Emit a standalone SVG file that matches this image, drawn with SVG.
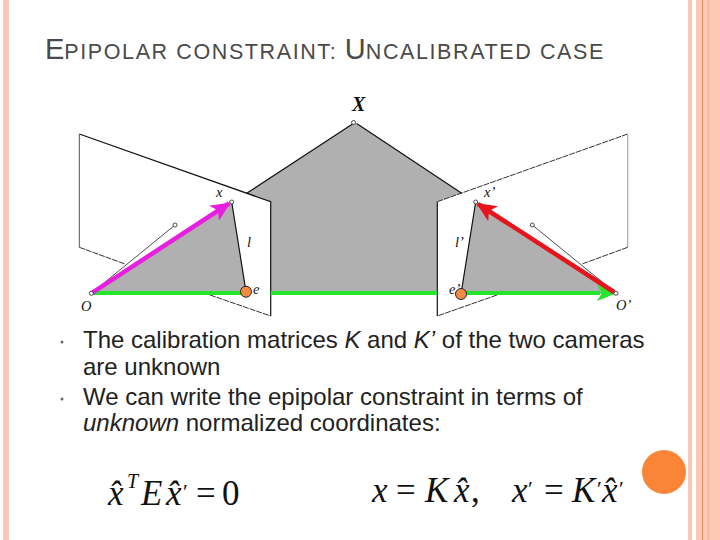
<svg xmlns="http://www.w3.org/2000/svg" width="720" height="540" viewBox="0 0 720 540">
<style>
.title{font-family:"Liberation Sans",Arial,sans-serif;fill:#4a4a4a;font-size:21.5px;letter-spacing:1.6px}
.cap{font-size:29px;letter-spacing:0}
.body{font-family:"Liberation Sans",Arial,sans-serif;fill:#222;font-size:24px}
.bul{fill:#666}
.lab{font-family:"Liberation Serif","Times New Roman",serif;font-style:italic;fill:#111;font-size:14.5px}
.math{font-family:"Liberation Serif","Times New Roman",serif;fill:#111;font-size:35px}
.i{font-style:italic}
.sup{font-size:20px}
.pr{font-size:22px}
.edge{fill:none;stroke:#111;stroke-width:1.2}
.dash{fill:none;stroke:#333;stroke-width:1;stroke-dasharray:6 1}
.thin{fill:none;stroke:#222;stroke-width:.8}
.pt{fill:#fff;stroke:#222;stroke-width:.8}
.gray{fill:#b0b0b0}
.ep{fill:#f58a42;stroke:#222;stroke-width:1}
</style>
<defs>
<marker id="mg" markerUnits="userSpaceOnUse" markerWidth="20" markerHeight="16" refX="18" refY="8" orient="auto"><path d="M0 0L20 8L0 16L5 8Z" fill="#22e52c"/></marker>
<marker id="mm" markerUnits="userSpaceOnUse" markerWidth="20" markerHeight="18" refX="18" refY="9" orient="auto"><path d="M0 0L20 9L0 18L5 9Z" fill="#e81fe0"/></marker>
<marker id="mr" markerUnits="userSpaceOnUse" markerWidth="20" markerHeight="18" refX="18" refY="9" orient="auto"><path d="M0 0L20 9L0 18L5 9Z" fill="#e8141c"/></marker>
</defs>
<g id="frame">
<rect x="3" y="0" width="6" height="540" fill="#f9c8b4"/>
<rect x="688" y="0" width="4" height="540" fill="#f9c8b4"/>
<rect x="696" y="0" width="24" height="540" fill="#fdc8b4"/>
<rect x="702" y="0" width="1" height="540" fill="#e8945f"/>
<rect x="707" y="0" width="3" height="540" fill="#f7bda8"/>
</g>
<text class="title" x="45" y="59"><tspan class="cap">E</tspan>PIPOLAR CONSTRAINT: <tspan class="cap">U</tspan>NCALIBRATED CASE</text>
<g id="scene">
<path class="gray" d="M246.7 193.3L353.3 123.5L356.7 123.5L461.7 193.3L437.3 201.7V292H270.7V201.7Z"/>
<path class="edge" d="M246.7 193.3L353.3 123.5M356.7 123.5L461.7 193.3"/>
<path class="edge" d="M79.3 134L270.7 201.7V316"/>
<path d="M79.3 134V247.3" fill="none" stroke="#555" stroke-width="1"/>
<path class="dash" d="M79.3 247.3L125 264M210 295L270.7 316"/>
<path class="edge" d="M437.3 316V201.7"/>
<path class="dash" d="M437.3 201.7L627.7 134"/>
<path d="M627.7 134V247.3" fill="none" stroke="#aaa" stroke-width="1.2"/>
<path class="dash" d="M627.7 247.3L582 264M497 295L437.3 316"/>
<path class="gray" d="M91.3 293.3L231.7 202L246 291.7Z"/>
<path class="gray" d="M616 293.3L475.7 202L461 294Z"/>
<path class="edge" d="M231.7 202L246 291.7M475.7 202L461 294"/>
<path class="thin" d="M91.3 293.3L175 225M616 293.3L532.3 225"/>
<circle class="pt" cx="175" cy="225" r="2"/><circle class="pt" cx="532.3" cy="225" r="2"/>
<circle class="pt" cx="353.5" cy="122.5" r="2"/>
</g>
<g id="connectors">
<path d="M92 293H246M270.7 293H437.3M465 293H600" fill="none" stroke="#22e52c" stroke-width="4"/>
<path d="M590 293H615" fill="none" stroke="#22e52c" stroke-width="1" marker-end="url(#mg)"/>
<path d="M91.3 293.3L229 203.5" fill="none" stroke="#e81fe0" stroke-width="4.5" marker-end="url(#mm)"/>
<path d="M614 292L478 204" fill="none" stroke="#e8141c" stroke-width="4.5" marker-end="url(#mr)"/>
</g>
<g id="points">
<circle class="pt" cx="91.3" cy="293.3" r="2"/><circle class="pt" cx="231.7" cy="202" r="2"/><circle class="pt" cx="475.7" cy="202" r="2"/><circle class="pt" cx="616" cy="293.3" r="2"/>
<circle id="e" class="ep" cx="246" cy="291.7" r="5.5"/>
<circle id="e-prime" class="ep" cx="461" cy="294" r="5.5"/>
</g>
<g id="labels">
<text x="352" y="111" font-family="Liberation Serif,serif" font-weight="bold" font-style="italic" font-size="20" fill="#111">X</text>
<text class="lab" x="216" y="197">x</text>
<text class="lab" x="484" y="197">x’</text>
<text class="lab" x="247" y="247">l</text>
<text class="lab" x="455" y="247">l’</text>
<text class="lab" x="253" y="294">e</text>
<text class="lab" x="449" y="294">e’</text>
<text class="lab" x="81" y="311">O</text>
<text class="lab" x="616" y="310">O’</text>
</g>
<circle class="bul" cx="62" cy="342" r="1.5"/>
<circle class="bul" cx="62" cy="399" r="1.5"/>
<text class="body" x="83" y="348">The calibration matrices <tspan class="i">K</tspan> and <tspan class="i">K’</tspan> of the two cameras</text>
<text class="body" x="83" y="375">are unknown</text>
<text class="body" x="83" y="405">We can write the epipolar constraint in terms of</text>
<text class="body" x="83" y="431"><tspan class="i">unknown</tspan> normalized coordinates:</text>
<g id="eq1">
<text class="math i" x="108" y="505">x̂</text>
<text class="math i sup" x="127" y="488">T</text>
<text class="math i" x="141" y="505">E</text>
<text class="math i" x="166" y="505">x̂</text>
<text class="math pr" x="183" y="499">′</text>
<text class="math" x="196" y="505">=</text>
<text class="math" x="222" y="505">0</text>
</g>
<g id="eq2">
<text class="math i" x="372" y="502">x</text>
<text class="math" x="396" y="502">=</text>
<text class="math i" x="425" y="502">K</text>
<text class="math i" x="454" y="502">x̂</text>
<text class="math" x="471" y="502">,</text>
<text class="math i" x="512" y="502">x</text>
<text class="math pr" x="528" y="496">′</text>
<text class="math" x="544" y="502">=</text>
<text class="math i" x="572" y="502">K</text>
<text class="math pr" x="597" y="496">′</text>
<text class="math i" x="602" y="502">x̂</text>
<text class="math pr" x="619" y="496">′</text>
</g>
<circle id="dot" cx="664" cy="472" r="22" fill="#fb8537"/>
</svg>
